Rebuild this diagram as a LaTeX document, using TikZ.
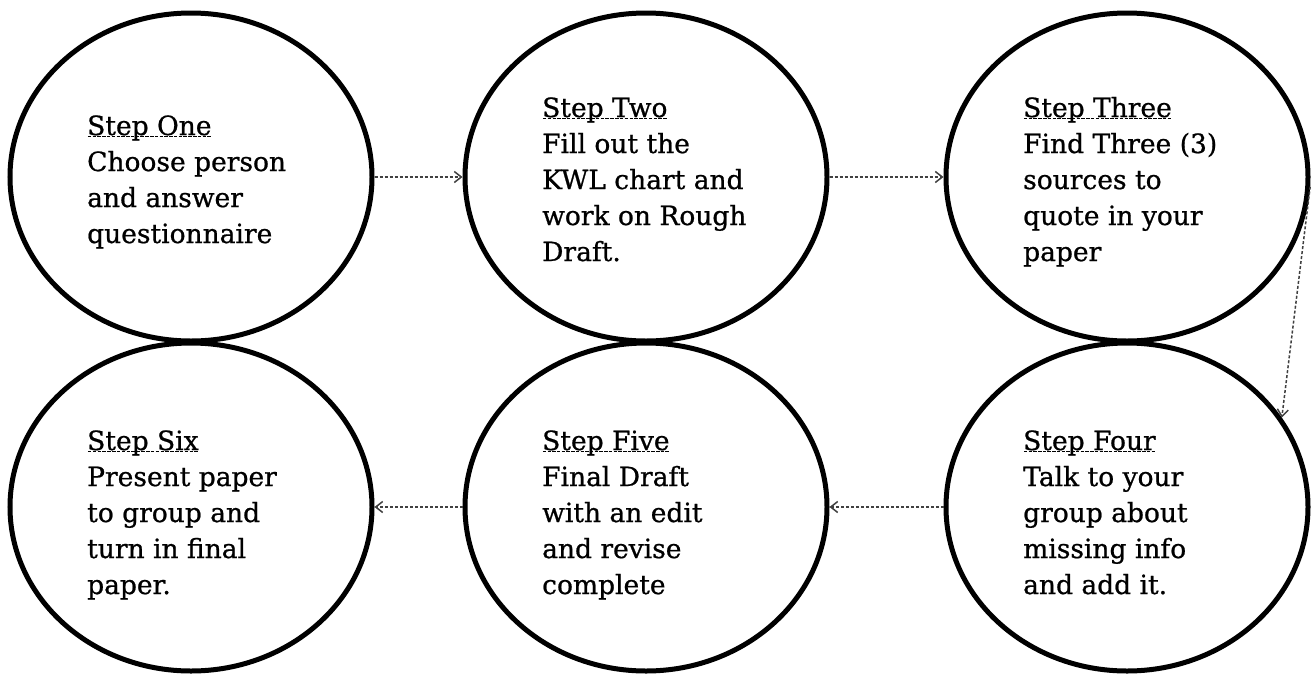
\documentclass[tikz,border=0pt]{standalone}
\usepackage{fontspec}
\setmainfont[FakeBold=0.8]{DejaVu Serif}
\usetikzlibrary{shapes.geometric,arrows.meta}
\newsavebox{\myulbox}
\newcommand{\stepul}[1]{\sbox{\myulbox}{#1}\rlap{\usebox{\myulbox}}\hbox to \wd\myulbox{\xleaders\hbox{\kern0.6pt\rule[-2pt]{3.5pt}{1.4pt}\kern0.6pt}\hfill}}
\tikzset{
  stepcircle/.style={ellipse, draw=black, line width=5pt, minimum width=362pt, minimum height=328pt, inner sep=0pt},
  steptext/.style={anchor=base west, inner sep=0pt, font=\fontsize{26.5}{36}\selectfont},
  flow/.style={draw=black!75, line width=1.5pt, densely dashed, -{Straight Barb[length=7pt,width=11pt]}}
}
\begin{document}
\begin{tikzpicture}[x=1pt,y=-1pt]
\useasboundingbox (0,0) rectangle (1315,673);
\fill[white] (0,0) rectangle (1315,673);
% circles
\node[stepcircle] (c1) at (191,177) {};
\node[stepcircle] (c2) at (646,177) {};
\node[stepcircle] (c3) at (1127,177) {};
\node[stepcircle] (c4) at (1127,507) {};
\node[stepcircle] (c5) at (646,507) {};
\node[stepcircle] (c6) at (191,507) {};
% texts
\node[steptext] (t1) at (87,135) {\begin{tabular}[t]{@{}l@{}}\stepul{Step One}\\ Choose person\\ and answer\\ questionnaire\end{tabular}};
\node[steptext] (t2) at (542,117) {\begin{tabular}[t]{@{}l@{}}\stepul{Step Two}\\ Fill out the\\ KWL chart and\\ work on Rough\\ Draft.\end{tabular}};
\node[steptext] (t3) at (1023,117) {\begin{tabular}[t]{@{}l@{}}\stepul{Step Three}\\ Find Three (3)\\ sources to\\ quote in your\\ paper\end{tabular}};
\node[steptext] (t4) at (1023,450) {\begin{tabular}[t]{@{}l@{}}\stepul{Step Four}\\ Talk to your\\ group about\\ missing info\\ and add it.\end{tabular}};
\node[steptext] (t5) at (542,450) {\begin{tabular}[t]{@{}l@{}}\stepul{Step Five}\\ Final Draft\\ with an edit\\ and revise\\ complete\end{tabular}};
\node[steptext] (t6) at (87,450) {\begin{tabular}[t]{@{}l@{}}\stepul{Step Six}\\ Present paper\\ to group and\\ turn in final\\ paper.\end{tabular}};
% connectors
\draw[flow] (c1) -- (c2);
\draw[flow] (c2) -- (c3);
\draw[flow] (c3.-3) -- (c4.30);
\draw[flow] (c4) -- (c5);
\draw[flow] (c5) -- (c6);
\end{tikzpicture}
\end{document}
